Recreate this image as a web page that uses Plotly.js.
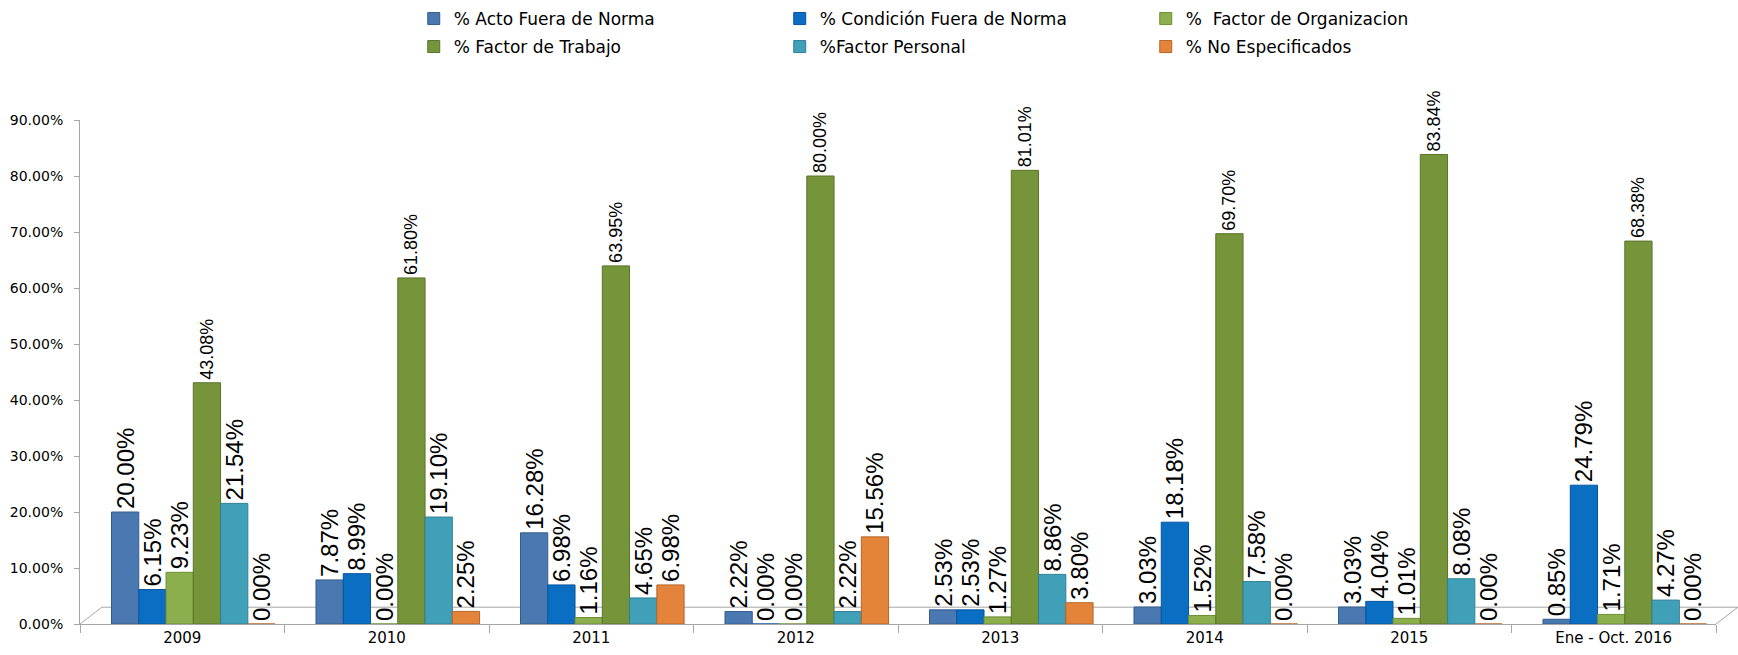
<!DOCTYPE html>
<html>
<head>
<meta charset="utf-8">
<script src="https://cdn.plot.ly/plotly-3.0.1.min.js"></script>
<style>
html,body{margin:0;padding:0;background:#fff;}
#chart{width:1738px;height:655px;}
</style>
</head>
<body>
<div id="chart"></div>
<script>
const categories = ["2009", "2010", "2011", "2012", "2013", "2014", "2015", "Ene - Oct. 2016"];

const seriesNames = ["% Acto Fuera de Norma", "% Condición Fuera de Norma", "%  Factor de Organizacion",
                     "% Factor de Trabajo", "%Factor Personal", "% No Especificados"];

const actoFueraNorma      = [20.00, 7.87, 16.28, 2.22, 2.53, 3.03, 3.03, 0.85];
const condicionFueraNorma = [6.15, 8.99, 6.98, 0.00, 2.53, 18.18, 4.04, 24.79];
const factorOrganizacion  = [9.23, 0.00, 1.16, 0.00, 1.27, 1.52, 1.01, 1.71];
const factorTrabajo       = [43.08, 61.80, 63.95, 80.00, 81.01, 69.70, 83.84, 68.38];
const factorPersonal      = [21.54, 19.10, 4.65, 2.22, 8.86, 7.58, 8.08, 4.27];
const noEspecificados     = [0.00, 2.25, 6.98, 15.56, 3.80, 0.00, 0.00, 0.00];

const seriesValues = [actoFueraNorma, condicionFueraNorma, factorOrganizacion,
                      factorTrabajo, factorPersonal, noEspecificados];

const colors = ["#4a78b0", "#0a6ec2", "#8cae4c", "#76943a", "#40a0b8", "#e4843a"];
const lineColors = ["#345c8c", "#0656a0", "#6f8f36", "#5a7429", "#2f8096", "#b86526"];
const legendIds = ["legend", "legend", "legend", "legend2", "legend2", "legend2"];
const labelSizes = [24, 24, 24, 18, 24, 24];

// invisible trace that carries the category axis with its labels
const axisTrace = {
  type: "scatter", mode: "none", x: categories, y: categories.map(() => 0),
  xaxis: "x", yaxis: "y", showlegend: false, hoverinfo: "skip"
};

// bars drawn on an overlaid axis, nudged right like the 3D perspective of the original
const barTraces = seriesNames.map((name, i) => ({
  type: "bar",
  name: name,
  x: categories,
  y: seriesValues[i],
  xaxis: "x2",
  yaxis: "y",
  legend: legendIds[i],
  marker: {color: colors[i], line: {color: lineColors[i], width: 1}},
  texttemplate: "%{y:.2f}%",
  textposition: "outside",
  textangle: -90,
  constraintext: "none",
  cliponaxis: false,
  textfont: {family: "Liberation Sans, Arial, sans-serif", size: labelSizes[i], color: "#000"},
  hoverinfo: "skip"
}));

const gridGrey = "#a6a6a6";

const legendCommon = {
  orientation: "h", xref: "paper", x: 0.204, xanchor: "left",
  yref: "container", yanchor: "middle",
  entrywidth: 321, entrywidthmode: "pixels", itemwidth: 30,
  font: {family: "DejaVu Sans, sans-serif", size: 17, color: "#000"},
  bgcolor: "rgba(0,0,0,0)", itemclick: false, tracegroupgap: 0
};

const layout = {
  width: 1738,
  height: 655,
  margin: {l: 80, r: 22, t: 120, b: 31},
  paper_bgcolor: "#ffffff",
  plot_bgcolor: "#ffffff",
  barmode: "group",
  bargap: 0.2,
  bargroupgap: 0,
  showlegend: true,
  font: {family: "DejaVu Sans, sans-serif", color: "#000"},
  legend: Object.assign({}, legendCommon, {y: 1 - 19 / 655}),
  legend2: Object.assign({}, legendCommon, {y: 1 - 47 / 655}),
  xaxis: {
    type: "category", categoryarray: categories, range: [-0.5, 7.5],
    showline: true, linecolor: gridGrey, linewidth: 1,
    ticks: "outside", tickson: "boundaries", ticklen: 8, tickcolor: gridGrey,
    tickfont: {family: "DejaVu Sans, sans-serif", size: 15, color: "#000"},
    showgrid: false, zeroline: false, fixedrange: true
  },
  xaxis2: {
    type: "category", categoryarray: categories, range: [-0.554, 7.446],
    overlaying: "x", visible: false, fixedrange: true
  },
  yaxis: {
    range: [0, 90], dtick: 10, tick0: 0,
    tickformat: ".2f", ticksuffix: "%",
    showline: true, linecolor: gridGrey, linewidth: 1,
    ticks: "outside", ticklen: 5, tickcolor: gridGrey,
    ticklabelstandoff: 8,
    tickfont: {family: "DejaVu Sans, sans-serif", size: 14, color: "#000"},
    showgrid: false, zeroline: false, fixedrange: true
  },
  shapes: [
    {type: "line", xref: "paper", yref: "y", x0: 0.0134, x1: 1.0134, y0: 3, y1: 3,
     line: {color: gridGrey, width: 1}, layer: "below"},
    {type: "line", xref: "paper", yref: "y", x0: 0, x1: 0.0134, y0: 0, y1: 3,
     line: {color: gridGrey, width: 1}, layer: "below"},
    {type: "line", xref: "paper", yref: "y", x0: 1, x1: 1.0134, y0: 0, y1: 3,
     line: {color: gridGrey, width: 1}, layer: "below"}
  ]
};

Plotly.newPlot("chart", [axisTrace].concat(barTraces), layout, {displayModeBar: false, staticPlot: true});
</script>
</body>
</html>
